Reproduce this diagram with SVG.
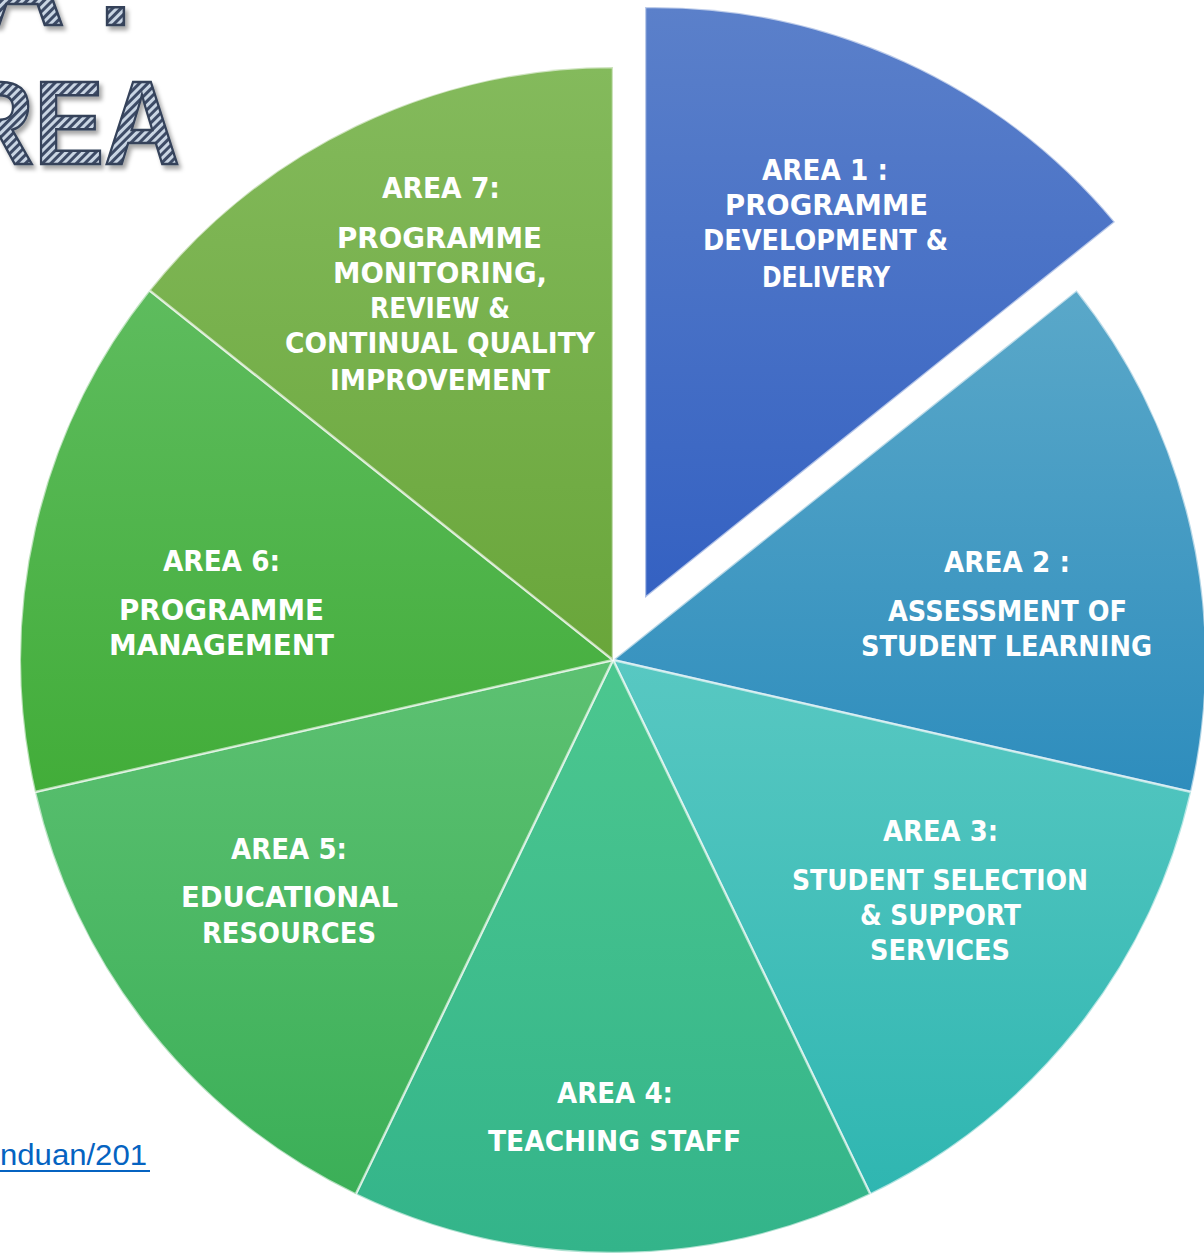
<svg xmlns="http://www.w3.org/2000/svg" width="1204" height="1253" viewBox="0 0 1204 1253">
<style>
.lbl{font-family:"DejaVu Sans","Liberation Sans",sans-serif;font-weight:bold;font-size:28px;fill:#ffffff;text-anchor:middle}
.slice{stroke:#ffffff;stroke-opacity:0.6;stroke-width:2.5;stroke-linejoin:round}
.title{font-family:"Liberation Sans","DejaVu Sans",sans-serif;font-weight:bold;font-size:119px;fill:url(#hatch);stroke:#34425a;stroke-width:2.5;filter:url(#shadow)}
.link{font-family:"Liberation Sans","Open Sans",sans-serif;font-size:30px;fill:#0563c1}
</style>
<defs>
<pattern id="hatch" patternUnits="userSpaceOnUse" width="6" height="6" patternTransform="rotate(45)">
<rect width="6" height="6" fill="#c9d5e3"/>
<rect width="3" height="6" fill="#3d4b66"/>
</pattern>
<filter id="shadow" x="-20%" y="-20%" width="140%" height="140%">
<feDropShadow dx="3" dy="4" stdDeviation="2" flood-color="#000" flood-opacity="0.35"/>
</filter>
<linearGradient id="g1" x1="0" y1="0" x2="0" y2="1"><stop offset="0" stop-color="#5b80ca"/><stop offset="1" stop-color="#3461c2"/></linearGradient>
<linearGradient id="g2" x1="0" y1="0" x2="0" y2="1"><stop offset="0" stop-color="#5aa8c9"/><stop offset="1" stop-color="#2e8dbd"/></linearGradient>
<linearGradient id="g3" x1="0" y1="0" x2="0" y2="1"><stop offset="0" stop-color="#58c8c2"/><stop offset="1" stop-color="#2fb6b1"/></linearGradient>
<linearGradient id="g4" x1="0" y1="0" x2="0" y2="1"><stop offset="0" stop-color="#4cc78f"/><stop offset="1" stop-color="#33b48a"/></linearGradient>
<linearGradient id="g5" x1="0" y1="0" x2="0" y2="1"><stop offset="0" stop-color="#5dc172"/><stop offset="1" stop-color="#3baf57"/></linearGradient>
<linearGradient id="g6" x1="0" y1="0" x2="0" y2="1"><stop offset="0" stop-color="#5ebc5e"/><stop offset="1" stop-color="#42ad39"/></linearGradient>
<linearGradient id="g7" x1="0" y1="0" x2="0" y2="1"><stop offset="0" stop-color="#84ba5c"/><stop offset="1" stop-color="#69a63a"/></linearGradient>
</defs>
<rect width="1204" height="1253" fill="#ffffff"/>

<g id="title">
<text class="title" x="-21 65 99" y="25">A .</text>
<text class="title" x="-42" y="164" textLength="222" lengthAdjust="spacingAndGlyphs">REA</text>
</g>

<g id="link">
<text class="link" x="0" y="1165" textLength="147" lengthAdjust="spacingAndGlyphs">nduan/201</text>
<rect x="0" y="1170" width="150" height="2" fill="#0563c1"/>
</g>

<g id="area1">
<path class="slice" fill="url(#g1)" d="M645,598 L645,7 A597,591 0 0 1 1115,222 Z"/>
<text class="lbl" x="825" y="180" textLength="126" lengthAdjust="spacingAndGlyphs">AREA 1 :</text>
<text class="lbl" x="826.5" y="215" textLength="203" lengthAdjust="spacingAndGlyphs">PROGRAMME</text>
<text class="lbl" x="825.5" y="250" textLength="245" lengthAdjust="spacingAndGlyphs">DEVELOPMENT &amp;</text>
<text class="lbl" x="826" y="287" textLength="128" lengthAdjust="spacingAndGlyphs">DELIVERY</text>
</g>

<g id="area2">
<path class="slice" fill="url(#g2)" d="M613,660 L1076.6,290.3 A593,593 0 0 1 1191.1,792 Z"/>
<text class="lbl" x="1007" y="572" textLength="126" lengthAdjust="spacingAndGlyphs">AREA 2 :</text>
<text class="lbl" x="1007.5" y="621" textLength="239" lengthAdjust="spacingAndGlyphs">ASSESSMENT OF</text>
<text class="lbl" x="1006.5" y="656" textLength="291" lengthAdjust="spacingAndGlyphs">STUDENT LEARNING</text>
</g>

<g id="area3">
<path class="slice" fill="url(#g3)" d="M613,660 L1191.1,792 A593,593 0 0 1 870.3,1194.3 Z"/>
<text class="lbl" x="940.5" y="841" textLength="115" lengthAdjust="spacingAndGlyphs">AREA 3:</text>
<text class="lbl" x="940" y="890" textLength="296" lengthAdjust="spacingAndGlyphs">STUDENT SELECTION</text>
<text class="lbl" x="940.5" y="925" textLength="161" lengthAdjust="spacingAndGlyphs">&amp; SUPPORT</text>
<text class="lbl" x="940" y="960" textLength="140" lengthAdjust="spacingAndGlyphs">SERVICES</text>
</g>

<g id="area4">
<path class="slice" fill="url(#g4)" d="M613,660 L870.3,1194.3 A593,593 0 0 1 355.7,1194.3 Z"/>
<text class="lbl" x="615" y="1103" textLength="116" lengthAdjust="spacingAndGlyphs">AREA 4:</text>
<text class="lbl" x="614.5" y="1151" textLength="253" lengthAdjust="spacingAndGlyphs">TEACHING STAFF</text>
</g>

<g id="area5">
<path class="slice" fill="url(#g5)" d="M613,660 L355.7,1194.3 A593,593 0 0 1 34.9,792 Z"/>
<text class="lbl" x="289" y="859" textLength="116" lengthAdjust="spacingAndGlyphs">AREA 5:</text>
<text class="lbl" x="289.5" y="907" textLength="217" lengthAdjust="spacingAndGlyphs">EDUCATIONAL</text>
<text class="lbl" x="289" y="943" textLength="174" lengthAdjust="spacingAndGlyphs">RESOURCES</text>
</g>

<g id="area6">
<path class="slice" fill="url(#g6)" d="M613,660 L34.9,792 A593,593 0 0 1 149.4,290.3 Z"/>
<text class="lbl" x="221.5" y="571" textLength="117" lengthAdjust="spacingAndGlyphs">AREA 6:</text>
<text class="lbl" x="221.5" y="620" textLength="205" lengthAdjust="spacingAndGlyphs">PROGRAMME</text>
<text class="lbl" x="221.5" y="655" textLength="225" lengthAdjust="spacingAndGlyphs">MANAGEMENT</text>
</g>

<g id="area7">
<path class="slice" fill="url(#g7)" d="M613,660 L149.4,290.3 A593,593 0 0 1 613,67 Z"/>
<text class="lbl" x="441" y="198" textLength="118" lengthAdjust="spacingAndGlyphs">AREA 7:</text>
<text class="lbl" x="439.5" y="248" textLength="205" lengthAdjust="spacingAndGlyphs">PROGRAMME</text>
<text class="lbl" x="440" y="283" textLength="214" lengthAdjust="spacingAndGlyphs">MONITORING,</text>
<text class="lbl" x="440" y="318" textLength="140" lengthAdjust="spacingAndGlyphs">REVIEW &amp;</text>
<text class="lbl" x="440" y="353" textLength="310" lengthAdjust="spacingAndGlyphs">CONTINUAL QUALITY</text>
<text class="lbl" x="440" y="390" textLength="220" lengthAdjust="spacingAndGlyphs">IMPROVEMENT</text>
</g>

<g id="connectors"/>
</svg>
